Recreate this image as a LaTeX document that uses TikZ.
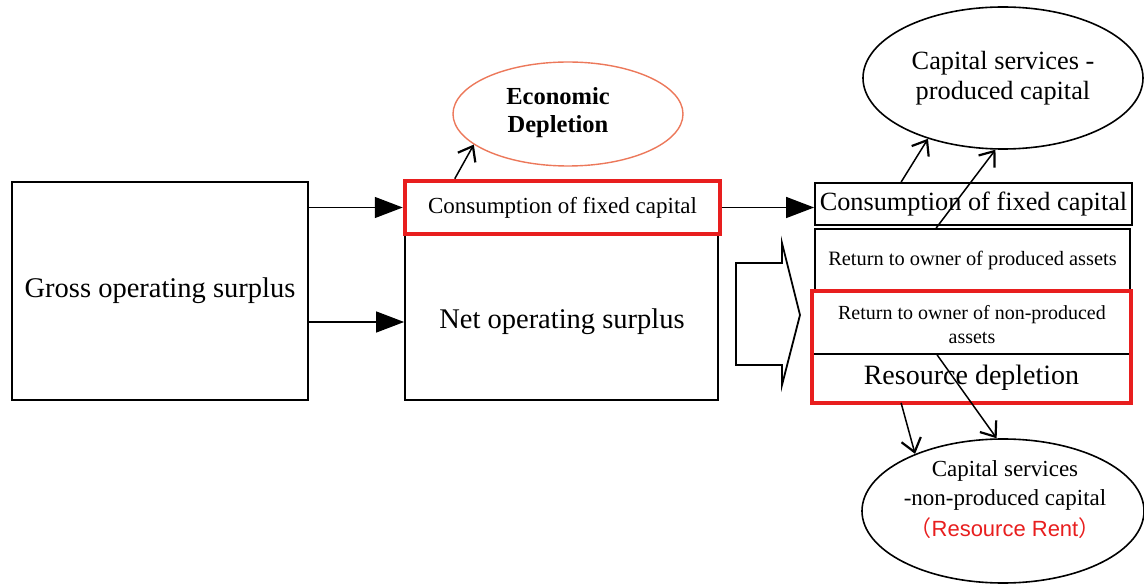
\documentclass[tikz,border=0pt]{standalone}
\usepackage{fontspec}
\setmainfont{Liberation Serif}
\newfontfamily\sansf{Liberation Sans}
\newfontfamily\cjk{Noto Sans CJK SC}
\usetikzlibrary{arrows.meta,shapes.geometric,calc}
\definecolor{myred}{RGB}{232,30,30}
\definecolor{myorange}{RGB}{236,120,90}
\begin{document}
\begin{tikzpicture}[x=1pt,y=-1pt,
  box/.style={draw, line width=1.8pt, inner sep=0pt},
  redbox/.style={draw=myred, line width=4.5pt, inner sep=0pt},
  oval/.style={ellipse, draw, line width=1.6pt, inner sep=0pt},
  tri/.style={-{Triangle[length=28pt,width=21pt]}, line width=1.4pt},
  barb/.style={-{Straight Barb[length=13pt,width=20pt,line width=2.2pt]}, line width=1.5pt}]
\useasboundingbox (0,0) rectangle (1144,585);

% left box
\node[box, minimum width=296pt, minimum height=218pt] (gross) at (160,291)
  {\fontsize{28.5}{31}\selectfont Gross operating surplus};

% middle
\node[box, minimum width=313pt, minimum height=218pt] (net) at (561.5,291) {};
\node (nettext) at (562,322) {\fontsize{28.5}{31}\selectfont Net operating surplus};
\node[redbox, fill=white, minimum width=315pt, minimum height=53pt] (cfc1) at (562.5,207.5)
  {\fontsize{23}{26}\selectfont Consumption of fixed capital};
\node[oval, draw=myorange, line width=1.4pt, minimum width=230pt, minimum height=104pt] (econ) at (568,114) {};
\node[align=center, font=\bfseries\fontsize{24.5}{28}\selectfont] (econtext) at (558,113) {Economic\\Depletion};

% right stack
\node[box, minimum width=317pt, minimum height=42pt] (cfc2) at (973.5,204)
  {\fontsize{26.3}{29}\selectfont Consumption of fixed capital};
\node[box, minimum width=315pt, minimum height=63pt] (ret1) at (972.5,260.5)
  {\fontsize{20.4}{23}\selectfont Return to owner of produced assets};
\node[box, minimum width=317pt, minimum height=62pt] (ret2) at (971.5,323) {};
\node[align=center, font=\fontsize{20}{24}\selectfont] (ret2text) at (972,325)
  {Return to owner of non-produced\\assets};
\node[box, minimum width=317pt, minimum height=48pt] (rd) at (971.5,378)
  {\fontsize{28}{30}\selectfont Resource depletion};
\draw[myred, line width=4.5pt] (ret2.north west) rectangle (rd.south east);

% block arrow
\draw[line width=1.8pt, line join=miter] (736,263) -- (782,263) -- (782,243) -- (800,315)
  -- (782,385) -- (782,365) -- (736,365) -- cycle;

% ellipses right
\node[oval, minimum width=280pt, minimum height=142pt, align=center,
  font=\fontsize{26.3}{30}\selectfont] (cap1) at (1003,78) {Capital services -\\produced capital};
\node[oval, minimum width=282pt, minimum height=144pt] (cap2) at (1003,511) {};
\node[align=center, font=\fontsize{23}{29}\selectfont] (cap2text) at (1005,500)
  {Capital services\\-non-produced capital\\[2pt]{\sansf\fontsize{22}{24}\selectfont\color{myred}{\cjk （}Resource Rent{\cjk ）}}};

% connectors
\draw[tri] (gross.east |- cfc1.west) -- (cfc1.west);
\draw[tri] (gross.east |- nettext) -- (net.west |- nettext);
\draw[tri] (cfc1.east) -- (cfc1.east -| cfc2.west);
\draw[barb] ($(cfc1.north west)+(52,0)$) -- (econ.198);
\draw[barb] ($(cfc2.north west)+(87,0)$) -- (cap1.219);
\draw[barb] ($(ret1.north west)+(122,0)$) -- (cap1.264);
\draw[barb] ($(rd.south west)+(89,0)$) -- (cap2.147);
\draw[barb] ($(ret2.south west)+(125,0)$) -- (cap2.95);
\end{tikzpicture}
\end{document}
